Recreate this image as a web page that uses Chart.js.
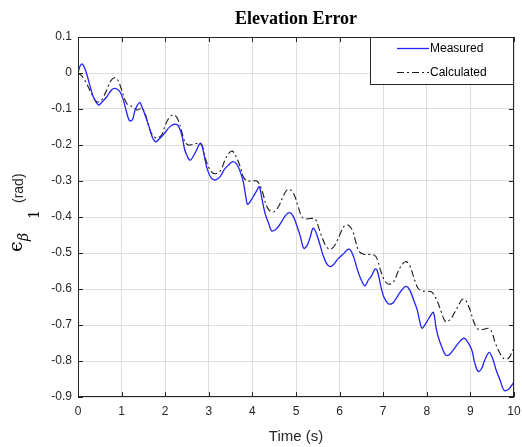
<!DOCTYPE html>
<html>
<head>
<meta charset="utf-8">
<script src="https://cdn.jsdelivr.net/npm/chart.js@4/dist/chart.umd.min.js"></script>
<style>
  html, body { margin: 0; padding: 0; background: #fff; }
  #chart { display: block; }
</style>
</head>
<body>
<canvas id="chart" width="522" height="447"></canvas>
<script>
// Measured elevation error
const measuredTime = [
  0, 0.05, 0.1, 0.18, 0.28, 0.35, 0.47, 0.54, 0.66, 0.77,
  0.85, 0.96, 1.04, 1.11, 1.18, 1.25, 1.31, 1.41, 1.48, 1.55,
  1.63, 1.70, 1.78, 1.88, 1.98, 2.11, 2.22, 2.30, 2.38, 2.45,
  2.53, 2.58, 2.64, 2.72, 2.80, 2.84, 2.90, 2.97, 3.06, 3.16,
  3.26, 3.35, 3.45, 3.55, 3.64, 3.72, 3.79, 3.85, 3.89, 3.97,
  4.04, 4.10, 4.16, 4.21, 4.29, 4.37, 4.44, 4.52, 4.60, 4.67,
  4.77, 4.86, 4.94, 5.04, 5.10, 5.18, 5.26, 5.33, 5.39, 5.45,
  5.54, 5.62, 5.70, 5.78, 5.87, 5.97, 6.10, 6.19, 6.25, 6.32,
  6.40, 6.48, 6.58, 6.66, 6.73, 6.81, 6.86, 6.94, 7.01, 7.11,
  7.21, 7.30, 7.40, 7.52, 7.61, 7.70, 7.78, 7.84, 7.89, 7.98,
  8.07, 8.15, 8.21, 8.26, 8.34, 8.43, 8.51, 8.61, 8.72, 8.84,
  8.91, 9.03, 9.10, 9.18, 9.26, 9.33, 9.43, 9.51, 9.59, 9.68,
  9.77, 9.87, 9.98, 10.0
];
const measuredError = [
  0, 0.02, 0.025, 0.005, -0.038, -0.066, -0.089, -0.082, -0.066, -0.047,
  -0.043, -0.052, -0.075, -0.107, -0.132, -0.13, -0.103, -0.082, -0.098, -0.121,
  -0.149, -0.177, -0.191, -0.181, -0.168, -0.149, -0.142, -0.147, -0.172, -0.214,
  -0.237, -0.242, -0.232, -0.214, -0.195, -0.2, -0.232, -0.269, -0.292, -0.297,
  -0.288, -0.269, -0.256, -0.246, -0.253, -0.274, -0.302, -0.344, -0.365, -0.353,
  -0.339, -0.327, -0.316, -0.344, -0.39, -0.417, -0.438, -0.436, -0.426, -0.413,
  -0.394, -0.388, -0.399, -0.431, -0.454, -0.487, -0.478, -0.454, -0.431, -0.44,
  -0.473, -0.506, -0.529, -0.538, -0.531, -0.515, -0.501, -0.49, -0.492, -0.51,
  -0.543, -0.57, -0.591, -0.575, -0.564, -0.545, -0.547, -0.589, -0.621, -0.64,
  -0.64, -0.626, -0.607, -0.593, -0.603, -0.631, -0.658, -0.691, -0.709, -0.695,
  -0.677, -0.665, -0.705, -0.732, -0.76, -0.783, -0.783, -0.769, -0.751, -0.737,
  -0.742, -0.769, -0.806, -0.829, -0.82, -0.797, -0.776, -0.793, -0.825, -0.853,
  -0.881, -0.879, -0.862, -0.855
];

// Calculated elevation error
const calculatedTime = [
  0, 0.1, 0.2, 0.3, 0.43, 0.54, 0.66, 0.74, 0.83, 0.91,
  1.0, 1.08, 1.15, 1.27, 1.35, 1.46, 1.54, 1.61, 1.69, 1.80,
  1.92, 2.0, 2.11, 2.21, 2.30, 2.38, 2.45, 2.53, 2.64, 2.76,
  2.84, 2.91, 2.99, 3.08, 3.18, 3.28, 3.37, 3.46, 3.54, 3.61,
  3.72, 3.79, 3.87, 3.99, 4.10, 4.17, 4.24, 4.33, 4.42, 4.50,
  4.60, 4.70, 4.79, 4.86, 4.96, 5.05, 5.13, 5.21, 5.32, 5.44,
  5.51, 5.59, 5.69, 5.78, 5.87, 5.95, 6.02, 6.10, 6.19, 6.29,
  6.38, 6.45, 6.57, 6.68, 6.80, 6.87, 6.95, 7.05, 7.14, 7.24,
  7.34, 7.44, 7.53, 7.62, 7.72, 7.80, 7.90, 8.01, 8.11, 8.23,
  8.33, 8.43, 8.53, 8.63, 8.72, 8.81, 8.89, 8.99, 9.09, 9.18,
  9.30, 9.41, 9.49, 9.56, 9.66, 9.76, 9.87, 9.96, 10.0
];
const calculatedError = [
  0, -0.01, -0.03, -0.055, -0.08, -0.075, -0.047, -0.024, -0.013, -0.019,
  -0.047, -0.075, -0.089, -0.094, -0.103, -0.098, -0.112, -0.144, -0.168, -0.181,
  -0.172, -0.145, -0.121, -0.117, -0.131, -0.163, -0.191, -0.2, -0.198, -0.195,
  -0.2, -0.232, -0.26, -0.277, -0.279, -0.269, -0.242, -0.223, -0.217, -0.228,
  -0.26, -0.288, -0.299, -0.3, -0.3, -0.311, -0.334, -0.371, -0.385, -0.385,
  -0.371, -0.344, -0.325, -0.323, -0.339, -0.371, -0.399, -0.406, -0.404, -0.406,
  -0.426, -0.454, -0.481, -0.49, -0.482, -0.464, -0.445, -0.426, -0.422, -0.436,
  -0.473, -0.496, -0.504, -0.504, -0.506, -0.519, -0.552, -0.58, -0.587, -0.58,
  -0.552, -0.531, -0.524, -0.538, -0.575, -0.598, -0.606, -0.606, -0.608, -0.631,
  -0.663, -0.691, -0.686, -0.667, -0.647, -0.629, -0.631, -0.658, -0.695, -0.712,
  -0.712, -0.709, -0.719, -0.746, -0.774, -0.793, -0.793, -0.774, -0.762
];

const seriesLabels = ["Measured", "Calculated"];
const xTicks = [0, 1, 2, 3, 4, 5, 6, 7, 8, 9, 10];
const yTicks = [0.1, 0, -0.1, -0.2, -0.3, -0.4, -0.5, -0.6, -0.7, -0.8, -0.9];

const toPoints = (xs, ys) => xs.map((x, i) => ({ x: x, y: ys[i] }));
const fmt = v => {
    const s = (Math.round(v * 10) / 10).toFixed(1);
    return (s === "0.0" || s === "-0.0") ? "0" : s;
};

const sansFont = "'Liberation Sans', Arial, sans-serif";

// box, inward ticks, titles and legend drawn like the MATLAB figure
const matlabDecor = {
    id: "matlabDecor",
    afterDraw(chart) {
        const ctx = chart.ctx;
        const a = chart.chartArea;
        const sx = chart.scales.x, sy = chart.scales.y;
        ctx.save();

        // axes box
        ctx.strokeStyle = "#262626";
        ctx.lineWidth = 1;
        ctx.strokeRect(Math.round(a.left) + 0.5, Math.round(a.top) + 0.5,
            Math.round(a.right - a.left) - 1, Math.round(a.bottom - a.top) - 1);

        // inward tick marks
        ctx.beginPath();
        xTicks.forEach(t => {
            const px = Math.round(sx.getPixelForValue(t)) + 0.5;
            ctx.moveTo(px, a.bottom); ctx.lineTo(px, a.bottom - 5);
            ctx.moveTo(px, a.top); ctx.lineTo(px, a.top + 5);
        });
        yTicks.forEach(t => {
            const py = Math.round(sy.getPixelForValue(t)) + 0.5;
            ctx.moveTo(a.left, py); ctx.lineTo(a.left + 5, py);
            ctx.moveTo(a.right, py); ctx.lineTo(a.right - 5, py);
        });
        ctx.stroke();

        // title
        ctx.fillStyle = "#000";
        ctx.font = "bold 18px 'Liberation Serif', 'Times New Roman', serif";
        ctx.textAlign = "center";
        ctx.textBaseline = "alphabetic";
        ctx.fillText("Elevation Error", (a.left + a.right) / 2, 24);

        // x title
        ctx.fillStyle = "#262626";
        ctx.font = "15px " + sansFont;
        ctx.fillText("Time (s)", (a.left + a.right) / 2, 441);

        // y title, rotated
        ctx.save();
        ctx.rotate(-Math.PI / 2);
        ctx.textAlign = "left";
        ctx.fillStyle = "#000";
        ctx.font = "19px 'DejaVu Serif', serif";
        ctx.fillText("\u03F5", -252, 22);
        ctx.font = "italic 14px 'DejaVu Serif', serif";
        ctx.fillText("\u03B2", -241, 28);
        ctx.font = "14px 'DejaVu Serif', serif";
        ctx.fillText("1", -219, 39);
        ctx.fillStyle = "#262626";
        ctx.font = "14px " + sansFont;
        ctx.fillText("(rad)", -203, 23);
        ctx.restore();

        // legend box
        const lx = 370.5, ly = 37.5, lw = 143, lh = 47;
        ctx.fillStyle = "#fff";
        ctx.fillRect(lx, ly, lw, lh);
        ctx.strokeStyle = "#262626";
        ctx.strokeRect(lx, ly, lw, lh);
        ctx.font = "12px " + sansFont;
        ctx.textAlign = "left";
        ctx.textBaseline = "middle";
        chart.data.datasets.forEach((ds, i) => {
            const yy = ly + 11 + i * 24;
            ctx.strokeStyle = ds.borderColor;
            ctx.lineWidth = ds.borderWidth;
            ctx.setLineDash(ds.borderDash || []);
            ctx.beginPath();
            ctx.moveTo(397, yy); ctx.lineTo(429, yy);
            ctx.stroke();
            ctx.setLineDash([]);
            ctx.fillStyle = "#000";
            ctx.fillText(ds.label, 430, yy);
        });
        ctx.restore();
    }
};

new Chart(document.getElementById("chart").getContext("2d"), {
    type: "scatter",
    data: {
        datasets: [{
            label: seriesLabels[0],
            data: toPoints(measuredTime, measuredError),
            showLine: true,
            borderColor: "#2222ff",
            borderWidth: 1.3,
            pointRadius: 0,
            tension: 0.35
        }, {
            label: seriesLabels[1],
            data: toPoints(calculatedTime, calculatedError),
            showLine: true,
            borderColor: "#1a1a1a",
            borderWidth: 1.1,
            borderDash: [7, 3, 2, 3],
            pointRadius: 0,
            tension: 0.35
        }]
    },
    options: {
        responsive: false,
        animation: false,
        layout: { padding: { top: 37, right: 8, bottom: 0, left: 0 } },
        plugins: {
            legend: { display: false },
            title: { display: false },
            tooltip: { enabled: false }
        },
        scales: {
            x: {
                type: "linear",
                min: 0,
                max: 10,
                afterFit: s => { s.height = 50; s.paddingLeft = 0; s.paddingRight = 0; },
                afterBuildTicks: s => { s.ticks = xTicks.map(v => ({ value: v })); },
                grid: { color: "#dedede", drawTicks: false },
                border: { display: false },
                ticks: {
                    padding: 7,
                    color: "#262626",
                    font: { family: sansFont, size: 12 },
                    callback: v => String(v)
                }
            },
            y: {
                min: -0.9,
                max: 0.1,
                afterFit: s => { s.width = 78; s.paddingTop = 0; s.paddingBottom = 0; },
                afterBuildTicks: s => { s.ticks = yTicks.map(v => ({ value: v })); },
                grid: { color: "#dedede", drawTicks: false },
                border: { display: false },
                ticks: {
                    padding: 6,
                    color: "#262626",
                    font: { family: sansFont, size: 12 },
                    callback: v => fmt(v)
                }
            }
        }
    },
    plugins: [matlabDecor]
});
</script>
</body>
</html>
